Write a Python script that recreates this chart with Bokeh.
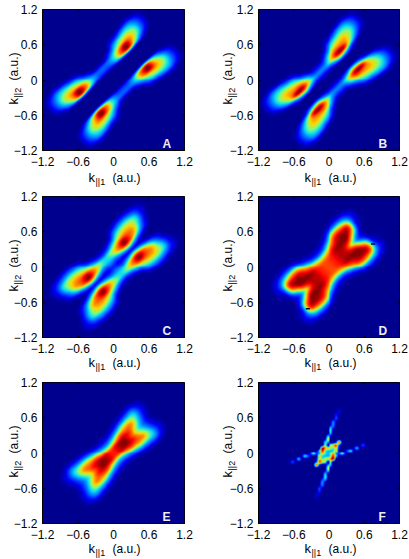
import numpy as np
from bokeh.core.properties import value
from bokeh.embed import file_html
from bokeh.resources import INLINE
from bokeh.layouts import column, row
from bokeh.models import FixedTicker, LinearColorMapper
from bokeh.plotting import figure

TICKS = [-1.2, -0.6, 0, 0.6, 1.2]
TICK_LABELS = ["\u22121.2", "\u22120.6", "0", "0.6", "1.2"]
S_STEP = 0.2   # table rows: |k1+k2| = 0, 0.2, ...
D_STEP = 0.1   # table columns: |k2-k1| = 0, 0.1, ...

# Colour level (0..10 on the jet scale), on a
# lattice along and across the diagonal; panels are symmetric about it.
PANEL_A = [
 [0, 0, .1, 1.8, 2.3, .5, 0, 0, 0, 0, 0],
 [0, 0, .1, 2, 2.5, .6, 0, 0, 0, 0, 0],
 [0, 0, .3, 3.8, 4.2, 2.5, .6, 0, 0, 0, 0],
 [0, 0, .6, 7, 7.5, 5, 3, 1, .1, 0, 0],
 [0, 0, .8, 9, 10, 6.5, 4.5, 1.8, .2, 0, 0],
 [0, 0, .3, 5.5, 7, 6.5, 5, 3, .6, 0, 0],
 [0, 0, .1, 2.5, 4.5, 5, 4.2, 3, 1, 0, 0],
 [0, 0, 0, .5, 1.8, 2.3, 2.2, 1.5, .4, 0, 0],
 [0, 0, 0, 0, .2, .3, .3, .2, 0, 0, 0],
 [0, 0, 0, 0, 0, 0, 0, 0, 0, 0, 0],
 [0, 0, 0, 0, 0, 0, 0, 0, 0, 0, 0],
]
PANEL_B = [
 [0, .1, 1.2, 2.8, 1.5, .3, 0, 0, 0, 0, 0],
 [0, .1, 1.4, 3.2, 2, .4, 0, 0, 0, 0, 0],
 [0, .1, 2.8, 6, 5, 2.5, .6, 0, 0, 0, 0],
 [0, .2, 5, 9.5, 7.5, 5, 3, 1, .1, 0, 0],
 [0, .2, 4, 9.5, 7.5, 6, 4.2, 1.8, .2, 0, 0],
 [0, .1, 1.5, 5.5, 6.5, 6.2, 4.8, 3, .6, 0, 0],
 [0, 0, .2, 2.5, 4.3, 4.8, 4.2, 3, 1, 0, 0],
 [0, 0, 0, .5, 1.7, 2.3, 2.2, 1.5, .4, 0, 0],
 [0, 0, 0, 0, .2, .3, .3, .2, 0, 0, 0],
 [0, 0, 0, 0, 0, 0, 0, 0, 0, 0, 0],
 [0, 0, 0, 0, 0, 0, 0, 0, 0, 0, 0],
]
PANEL_C = [
 [1.5, 2.5, 3.8, 3.8, 1.5, .3, 0, 0, 0, 0, 0],
 [1, 2.2, 4.5, 5, 2.3, .5, 0, 0, 0, 0, 0],
 [1, 3.5, 7, 7, 4.5, 1.8, .3, 0, 0, 0, 0],
 [1.2, 5, 9.5, 9.5, 6.5, 4.5, 2.5, .7, 0, 0, 0],
 [.8, 3.5, 7.5, 8, 7, 5.5, 3.5, 1.5, .2, 0, 0],
 [.3, 1.5, 4.5, 6.5, 6.3, 5.5, 3.5, 1.5, .2, 0, 0],
 [0, .4, 1.8, 3, 4, 4, 2.5, 1, .1, 0, 0],
 [0, 0, .2, .5, 1, 1.2, 1, .4, 0, 0, 0],
 [0, 0, 0, 0, 0, .1, .1, 0, 0, 0, 0],
 [0, 0, 0, 0, 0, 0, 0, 0, 0, 0, 0],
 [0, 0, 0, 0, 0, 0, 0, 0, 0, 0, 0],
]
PANEL_D = [
 [8, 8, 7.5, 5, 2, .6, .1, 0, 0, 0, 0],
 [8.5, 8.5, 8, 6, 2.8, .9, .2, 0, 0, 0, 0],
 [9.5, 9.5, 9.5, 8, 5.5, 2.5, .7, .1, 0, 0, 0],
 [9, 9.5, 10, 9.5, 8.5, 6, 2.5, .6, 0, 0, 0],
 [5.5, 8, 10, 10, 9, 6.5, 3, .9, .1, 0, 0],
 [2, 3.5, 6.5, 8.5, 8, 5, 2.5, .7, .1, 0, 0],
 [.2, .4, 1, 1.5, 2, 1.8, 1, .3, 0, 0, 0],
 [0, 0, .1, .2, .2, .2, .1, 0, 0, 0, 0],
 [0, 0, 0, 0, 0, 0, 0, 0, 0, 0, 0],
 [0, 0, 0, 0, 0, 0, 0, 0, 0, 0, 0],
 [0, 0, 0, 0, 0, 0, 0, 0, 0, 0, 0],
]
PANEL_E = [
 [8.5, 8, 4.5, 2, .6, .1, 0, 0, 0, 0, 0],
 [9.5, 9, 5.5, 2.6, .8, .1, 0, 0, 0, 0, 0],
 [10, 9.5, 7.5, 4, 1.5, .3, 0, 0, 0, 0, 0],
 [8, 8.5, 7.5, 5.5, 2.5, .6, .1, 0, 0, 0, 0],
 [5, 6, 7, 5.5, 3, 1, .1, 0, 0, 0, 0],
 [2.5, 3, 3.8, 4, 3, 1.2, .2, 0, 0, 0, 0],
 [.5, .7, 1, 1.3, 1, .4, 0, 0, 0, 0, 0],
 [0, 0, .1, .1, .1, 0, 0, 0, 0, 0, 0],
 [0, 0, 0, 0, 0, 0, 0, 0, 0, 0, 0],
 [0, 0, 0, 0, 0, 0, 0, 0, 0, 0, 0],
 [0, 0, 0, 0, 0, 0, 0, 0, 0, 0, 0],
]
# Panel F: the bright cells of its upper half (0.05 wide); the lower half repeats them through the origin.
F_K2 = [.75, .7, .7, .65, .6, .55, .55, .5, .45, .45, .4, .35, .3, .3, .25, .25,
        .2, .2, .2, .2, .2, .15, .15, .15, .15, .15, .15, .15,
        .1, .1, .1, .1, .1, .1, .1, .1, .1, .1,
        .05, .05, .05, .05, .05, .05, .05, .05, .05, .05,
        0, 0, 0, 0, 0, 0, 0, 0, 0, 0, 0, 0, 0]
F_K1 = [.2, .2, .15, .15, .15, .1, .15, .1, .1, .05, .05, .05, 0, .05, 0, -.05,
        -.05, 0, .15, .2, .25, -.05, .05, .1, .15, .2, .6, .65,
        -.1, -.05, 0, .05, .1, .15, .2, .45, .5, .55,
        -.15, -.1, -.05, 0, .05, .1, .15, .3, .35, .4,
        -.3, -.25, -.2, -.15, -.1, -.05, 0, .05, .1, .15, .2, .25, .3]
F_LEVEL = [.6, .8, .4, 1.5, 2, 2.5, .5, 3, 2, 3, 4.5, 3.5, 4, 1, 6, 1,
           4, 3, 1.5, 8, .5, 5, 5, 6, 8, 2, 2, .5,
           9.5, 7, 6, 5.5, 4.5, 6, .8, .6, 3.5, .4,
           4, 8.5, 4.5, 3.5, 3.5, 4, 6.5, .5, 2.5, 4,
           1.5, 5, 2, 3, 6.5, 4.5, 3.5, 4.5, 6.5, 3, 2, 5, 1.5]
F_SHIFT = [-0.02, -0.01]
D_MARK_K1 = [0.75, -0.36]
D_MARK_K2 = [0.39, -0.71]

JET_AT = [0, .11, .34, .375, .5, .625, .66, .89, 1]
JET_R = [0, 0, 0, 0, 125, 255, 255, 255, 135]
JET_G = [0, 0, 180, 215, 255, 215, 180, 0, 0]
JET_B = [143, 255, 255, 255, 125, 0, 0, 0, 0]
pos = np.linspace(0, 1, 256)
JET = ["#%02x%02x%02x" % (int(np.interp(t, JET_AT, JET_R)), int(np.interp(t, JET_AT, JET_G)), int(np.interp(t, JET_AT, JET_B))) for t in pos]

N = 142
AXIS_K = -1.2 + (np.arange(N) + .5) * 2.4 / N


def weights(t):
    return [.5 * (-t + 2 * t**2 - t**3), .5 * (2 - 5 * t**2 + 3 * t**3),
            .5 * (t + 4 * t**2 - 3 * t**3), .5 * (t**3 - t**2)]


def sample(tab, u, v, index):
    """Draw a read-off lattice at screen resolution (Catmull-Rom, for display only)."""
    iu, iv = np.floor(u).astype(int), np.floor(v).astype(int)
    wu, wv = weights(u - iu), weights(v - iv)
    out = np.zeros_like(u)
    for a in range(4):
        for b in range(4):
            out += wu[a] * wv[b] * index(tab, iu + a - 1, iv + b - 1)
    return np.clip(out, 0, 10)


def resample(table):
    k1, k2 = np.meshgrid(AXIS_K, AXIS_K)
    tab = np.array(table, float)

    def mirrored(t, i, j):
        return t[np.minimum(np.abs(i), t.shape[0] - 1), np.minimum(np.abs(j), t.shape[1] - 1)]
    return sample(tab, np.abs(k1 + k2) / S_STEP, np.abs(k2 - k1) / D_STEP, mirrored)


def f_field():
    g = np.zeros((31, 31))
    for k1, k2, lv in zip(F_K1, F_K2, F_LEVEL):
        i, j = int(round(k1 / .05)) + 15, int(round(k2 / .05)) + 15
        g[j, i] = lv
        g[30 - j, 30 - i] = lv
    k1, k2 = np.meshgrid(AXIS_K - F_SHIFT[0], AXIS_K - F_SHIFT[1])

    def padded(t, i, j):
        ok = (i >= 0) & (i < 31) & (j >= 0) & (j < 31)
        return np.where(ok, t[np.clip(i, 0, 30), np.clip(j, 0, 30)], 0)
    return sample(g, (k2 + .75) / .05, (k1 + .75) / .05, padded)


mapper = LinearColorMapper(palette=JET, low=0, high=10)
FONT = "Liberation Sans"


def panel(letter, data, left, right, top, bottom, fw, xlab, ylab):
    p = figure(width=left + fw + right, height=top + 141 + bottom, frame_width=fw, frame_height=141,
               x_range=(-1.2, 1.2), y_range=(-1.2, 1.2), toolbar_location=None, output_backend="svg",
               min_border_left=left, min_border_right=right, min_border_top=top, min_border_bottom=bottom,
               background_fill_color="#00008f")
    p.image(image=[data], x=-1.2, y=-1.2, dw=2.4, dh=2.4, color_mapper=mapper)
    p.grid.visible = False
    p.outline_line_color = "black"
    for ax in (p.xaxis[0], p.yaxis[0]):
        ax.ticker = FixedTicker(ticks=TICKS)
        ax.major_label_overrides = dict(zip(TICKS, TICK_LABELS))
        ax.major_tick_in, ax.major_tick_out = 2, 0
        ax.minor_tick_line_color = None
        ax.major_label_text_font = FONT
        ax.major_label_text_font_size = "12px"
        ax.major_label_text_color = "black"
        ax.axis_line_color = "black"
    p.xaxis[0].major_label_standoff = 6
    p.yaxis[0].major_label_standoff = 5
    p.yaxis[0].major_label_orientation = "horizontal"
    tick_len = 2 * 2.4 / 141
    p.segment(x0=TICKS, x1=TICKS, y0=[1.2] * 5, y1=[1.2 - tick_len] * 5, line_color="black", line_width=1)
    p.segment(x0=[1.2] * 5, x1=[1.2 - tick_len] * 5, y0=TICKS, y1=TICKS, line_color="black", line_width=1)

    def txt(s, dx, dy, size="12px", angle=0, color="black", style="normal"):
        r = p.text(x=[-1.2], y=[-1.2], text=[s], x_offset=[dx], y_offset=[-dy], text_font=value(FONT),
                   text_font_size=value(size), angle=angle, text_color=color, text_font_style=style,
                   text_baseline="alphabetic", text_align="left")
        r.level = "overlay"
    txt("k", 46, xlab, "13px")
    txt("||1", 53, xlab - 4, "9px")
    txt("(a.u.)", 70, xlab)
    txt("k", ylab, 46, "13px", angle=np.pi / 2)
    txt("||2", ylab + 4, 53, "9px", angle=np.pi / 2)
    txt("(a.u.)", ylab, 70, angle=np.pi / 2)
    txt(letter, 120, 7, "12px", color="#eeeeee", style="bold")
    return p


a = panel("A", resample(PANEL_A), 42, 20, 9, 37, 142, -27, -29)
b = panel("B", resample(PANEL_B), 54, 10, 9, 37, 141, -27, -31)
c = panel("C", resample(PANEL_C), 42, 20, 9, 35, 142, -25, -29)
d = panel("D", resample(PANEL_D), 54, 10, 9, 35, 141, -25, -31)
d.rect(x=D_MARK_K1, y=D_MARK_K2, width=.07, height=.025, fill_color="#000030", line_color=None)
e = panel("E", resample(PANEL_E), 42, 20, 10, 36, 142, -25, -29)
f = panel("F", f_field(), 54, 10, 10, 36, 141, -25, -31)

root = column(row(a, b, spacing=0), row(c, d, spacing=0), row(e, f, spacing=0), spacing=0)
open("out.html", "w").write(file_html(root, INLINE))
